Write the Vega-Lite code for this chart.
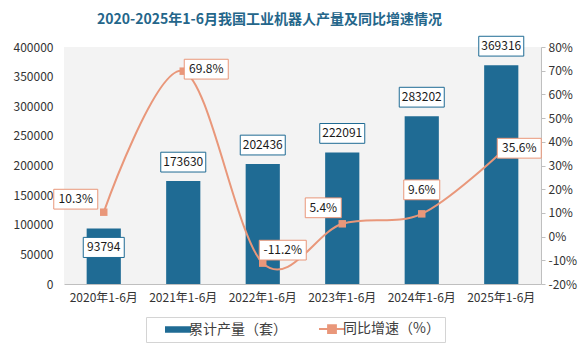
{
  "$schema": "https://vega.github.io/schema/vega-lite/v6.json",
  "width": 477,
  "height": 237,
  "autosize": {"type": "none"},
  "padding": {"left": 64, "top": 47, "right": 47, "bottom": 76},
  "background": "white",
  "config": {
    "font": "Noto Sans CJK SC",
    "view": {"fill": "#f3f3f3", "stroke": null},
    "locale": {"number": {"decimal": ".", "thousands": ",", "grouping": [3], "currency": ["$", ""], "minus": "-"}}
  },
  "title": {
    "text": "2020-2025年1-6月我国工业机器人产量及同比增速情况",
    "frame": "group",
    "anchor": "start",
    "dx": 33,
    "offset": 7,
    "fontSize": 14,
    "fontWeight": "bold",
    "color": "#24668a",
    "font": "Noto Sans CJK SC"
  },
  "data": {
    "values": [
      {"period": "2020年1-6月", "prod": 93794, "growth": 0.103},
      {"period": "2021年1-6月", "prod": 173630, "growth": 0.698},
      {"period": "2022年1-6月", "prod": 202436, "growth": -0.112},
      {"period": "2023年1-6月", "prod": 222091, "growth": 0.054},
      {"period": "2024年1-6月", "prod": 283202, "growth": 0.096},
      {"period": "2025年1-6月", "prod": 369316, "growth": 0.356}
    ]
  },
  "layer": [
    {
      "encoding": {
        "x": {
          "field": "period", "type": "ordinal", "sort": null, "title": null,
          "scale": {"paddingInner": 0.57, "paddingOuter": 0.285},
          "axis": {"labelAngle": 0, "ticks": false, "domainColor": "#bfbfbf", "labelFontSize": 12, "labelColor": "#333333", "labelPadding": 8, "grid": false}
        },
        "y": {
          "field": "prod", "type": "quantitative", "title": null,
          "scale": {"domain": [0, 400000], "nice": false},
          "axis": {"orient": "left", "values": [0, 50000, 100000, 150000, 200000, 250000, 300000, 350000, 400000], "format": "d", "domain": false, "ticks": false, "grid": false, "labelFontSize": 12, "labelColor": "#333333", "labelPadding": 11}
        }
      },
      "layer": [
        {
          "mark": {"type": "bar", "fill": "#1f6b94"},
          "encoding": {
            "color": {
              "datum": "累计产量（套）",
              "scale": {"domain": ["累计产量（套）", "同比增速（%）"], "range": ["#1f6b94", "#e9977a"]},
              "legend": {
                "orient": "none", "legendX": 82, "legendY": 270, "direction": "horizontal", "title": null,
                "strokeColor": "#d9d9d9", "fillColor": "white", "padding": 5,
                "labelFontSize": 14, "labelColor": "#404040", "labelFont": "Noto Sans CJK SC",
                "symbolSize": 676, "columnPadding": 18, "labelOffset": 4, "symbolOffset": 20,
                "encode": {
                  "legend": {
                    "update": {
                      "stroke": {"value": "#d4d4d4"},
                      "strokeWidth": {"value": 1},
                      "fill": {"value": "white"},
                      "width": {"value": 296},
                      "height": {"value": 25}
                    }
                  },
                  "symbols": {
                    "update": {
                      "shape": {"signal": "datum.value === '累计产量（套）' ? 'M-1,-0.25H1V0.25H-1Z' : 'M-1,0H1M-0.3,-0.3H0.3V0.3H-0.3Z'"},
                      "fill": {"signal": "datum.value === '累计产量（套）' ? '#1f6b94' : '#e9977a'"},
                      "stroke": {"signal": "datum.value === '累计产量（套）' ? '#1f6b94' : '#e9977a'"},
                      "strokeWidth": {"signal": "datum.value === '累计产量（套）' ? 0 : 2"},
                      "opacity": {"value": 1},
                      "fillOpacity": {"value": 1},
                      "strokeOpacity": {"value": 1}
                    }
                  }
                }
              }
            }
          }
        },
        {
          "transform": [{"filter": "datum.period === '2020年1-6月'"}],
          "layer": [
            {"mark": {"type": "point", "shape": "M-1,-0.49H1V0.49H-1Z", "size": 1681, "filled": true, "fill": "white", "stroke": "#1f6b94", "strokeWidth": 1, "opacity": 1, "yOffset": 19}},
            {"mark": {"type": "text", "fontSize": 12, "color": "#1a1a1a", "yOffset": 19, "align": "center", "baseline": "middle"}, "encoding": {"text": {"field": "prod", "type": "quantitative", "format": "d"}}}
          ]
        },
        {
          "transform": [{"filter": "datum.period !== '2020年1-6月'"}],
          "layer": [
            {"mark": {"type": "point", "shape": "M-1,-0.44H1V0.44H-1Z", "size": 2025, "filled": true, "fill": "white", "stroke": "#1f6b94", "strokeWidth": 1, "opacity": 1, "yOffset": -19}},
            {"mark": {"type": "text", "fontSize": 12, "color": "#1a1a1a", "yOffset": -19, "align": "center", "baseline": "middle"}, "encoding": {"text": {"field": "prod", "type": "quantitative", "format": "d"}}}
          ]
        }
      ]
    },
    {
      "encoding": {
        "x": {"field": "period", "type": "ordinal", "sort": null, "title": null},
        "y": {
          "field": "growth", "type": "quantitative", "title": null,
          "scale": {"domain": [-0.2, 0.8], "nice": false},
          "axis": {"orient": "right", "values": [-0.2, -0.1, 0, 0.1, 0.2, 0.3, 0.4, 0.5, 0.6, 0.7, 0.8], "format": ".0%", "domainColor": "#bfbfbf", "tickColor": "#bfbfbf", "tickSize": 4, "grid": false, "labelFontSize": 12, "labelColor": "#333333", "labelPadding": 3}
        }
      },
      "layer": [
        {
          "mark": {"type": "line", "interpolate": "cardinal", "strokeWidth": 2, "stroke": "#e9977a"},
          "encoding": {"color": {"datum": "同比增速（%）"}}
        },
        {
          "mark": {"type": "point", "shape": "square", "size": 56, "filled": true, "color": "#e9977a", "opacity": 1}
        },
        {
          "transform": [{"filter": "datum.period === '2020年1-6月'"}],
          "layer": [
            {"mark": {"type": "point", "shape": "M-1,-0.45H1V0.45H-1Z", "size": 1936, "filled": true, "fill": "white", "stroke": "#e9977a", "strokeWidth": 1, "opacity": 1, "xOffset": -28, "yOffset": -13}},
            {"mark": {"type": "text", "fontSize": 12, "color": "#1a1a1a", "xOffset": -28, "yOffset": -13, "align": "center", "baseline": "middle"}, "encoding": {"text": {"field": "growth", "type": "quantitative", "format": ".1%"}}}
          ]
        },
        {
          "transform": [{"filter": "datum.period === '2021年1-6月'"}],
          "layer": [
            {"mark": {"type": "point", "shape": "M-1,-0.45H1V0.45H-1Z", "size": 1936, "filled": true, "fill": "white", "stroke": "#e9977a", "strokeWidth": 1, "opacity": 1, "xOffset": 23, "yOffset": -2}},
            {"mark": {"type": "text", "fontSize": 12, "color": "#1a1a1a", "xOffset": 23, "yOffset": -2, "align": "center", "baseline": "middle"}, "encoding": {"text": {"field": "growth", "type": "quantitative", "format": ".1%"}}}
          ]
        },
        {
          "transform": [{"filter": "datum.period === '2022年1-6月'"}],
          "layer": [
            {"mark": {"type": "point", "shape": "M-1,-0.42H1V0.42H-1Z", "size": 2209, "filled": true, "fill": "white", "stroke": "#e9977a", "strokeWidth": 1, "opacity": 1, "xOffset": 20, "yOffset": -13}},
            {"mark": {"type": "text", "fontSize": 12, "color": "#1a1a1a", "xOffset": 20, "yOffset": -13, "align": "center", "baseline": "middle"}, "encoding": {"text": {"field": "growth", "type": "quantitative", "format": ".1%"}}}
          ]
        },
        {
          "transform": [{"filter": "datum.period === '2023年1-6月'"}],
          "layer": [
            {"mark": {"type": "point", "shape": "M-1,-0.55H1V0.55H-1Z", "size": 1296, "filled": true, "fill": "white", "stroke": "#e9977a", "strokeWidth": 1, "opacity": 1, "xOffset": -19, "yOffset": -16}},
            {"mark": {"type": "text", "fontSize": 12, "color": "#1a1a1a", "xOffset": -19, "yOffset": -16, "align": "center", "baseline": "middle"}, "encoding": {"text": {"field": "growth", "type": "quantitative", "format": ".1%"}}}
          ]
        },
        {
          "transform": [{"filter": "datum.period === '2024年1-6月'"}],
          "layer": [
            {"mark": {"type": "point", "shape": "M-1,-0.55H1V0.55H-1Z", "size": 1296, "filled": true, "fill": "white", "stroke": "#e9977a", "strokeWidth": 1, "opacity": 1, "xOffset": 0, "yOffset": -24}},
            {"mark": {"type": "text", "fontSize": 12, "color": "#1a1a1a", "xOffset": 0, "yOffset": -24, "align": "center", "baseline": "middle"}, "encoding": {"text": {"field": "growth", "type": "quantitative", "format": ".1%"}}}
          ]
        },
        {
          "transform": [{"filter": "datum.period === '2025年1-6月'"}],
          "layer": [
            {"mark": {"type": "point", "shape": "M-1,-0.45H1V0.45H-1Z", "size": 1936, "filled": true, "fill": "white", "stroke": "#e9977a", "strokeWidth": 1, "opacity": 1, "xOffset": 18, "yOffset": -4}},
            {"mark": {"type": "text", "fontSize": 12, "color": "#1a1a1a", "xOffset": 18, "yOffset": -4, "align": "center", "baseline": "middle"}, "encoding": {"text": {"field": "growth", "type": "quantitative", "format": ".1%"}}}
          ]
        }
      ]
    }
  ],
  "resolve": {"scale": {"y": "independent"}}
}
